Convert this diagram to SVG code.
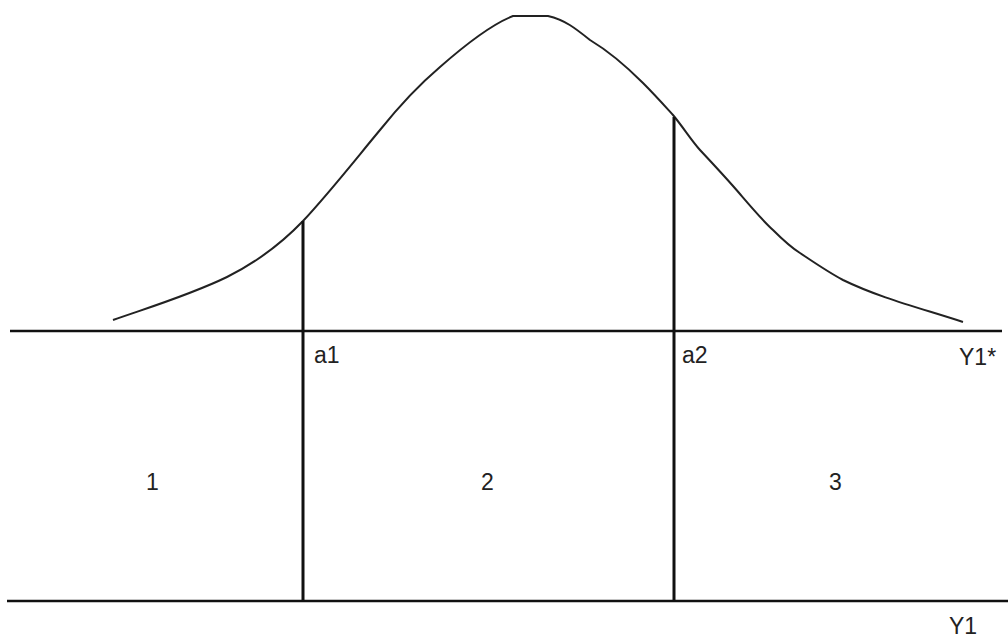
<svg xmlns="http://www.w3.org/2000/svg" width="1008" height="639" viewBox="0 0 1008 639">
<style>
.ln{stroke:#111;stroke-width:2.5;fill:none}
.vl{stroke:#111;stroke-width:3;fill:none}
.cv{stroke:#222;stroke-width:2;fill:none;stroke-linejoin:round}
text{font-family:"Liberation Sans",Arial,sans-serif;font-size:23px;fill:#222}
</style>
<rect width="1008" height="639" fill="#fff"/>
<g id="curve">
<path class="cv" d="M113,320 C150,307 190,295 227,277 C255,263 280,245 303,221 C330,192 355,160 380,130 C400,105 420,84 440,67 C465,45 490,25 513,16 L548,16 C565,20 575,28 590,40 C610,52 625,65 643,83 C655,95 663,104 673,115 C683,127 691,140 700,150 C715,166 728,180 740,194 C752,208 763,221 773,230 C785,242 792,248 800,253 C815,263 828,272 843,280 C880,298 920,308 963,322"/>
</g>
<g id="axes">
<line class="ln" x1="10" y1="331" x2="1002" y2="331"/>
<line class="ln" x1="7" y1="601" x2="1008" y2="601"/>
</g>
<g id="connectors">
<line class="vl" x1="303" y1="221" x2="303" y2="601"/>
<line class="vl" x1="674" y1="117" x2="674" y2="601"/>
</g>
<g id="labels">
<text x="314" y="363">a1</text>
<text x="682" y="363">a2</text>
<text x="959" y="365">Y1*</text>
<text x="949" y="634">Y1</text>
<text x="146" y="490">1</text>
<text x="481" y="490">2</text>
<text x="829" y="490">3</text>
</g>
</svg>
